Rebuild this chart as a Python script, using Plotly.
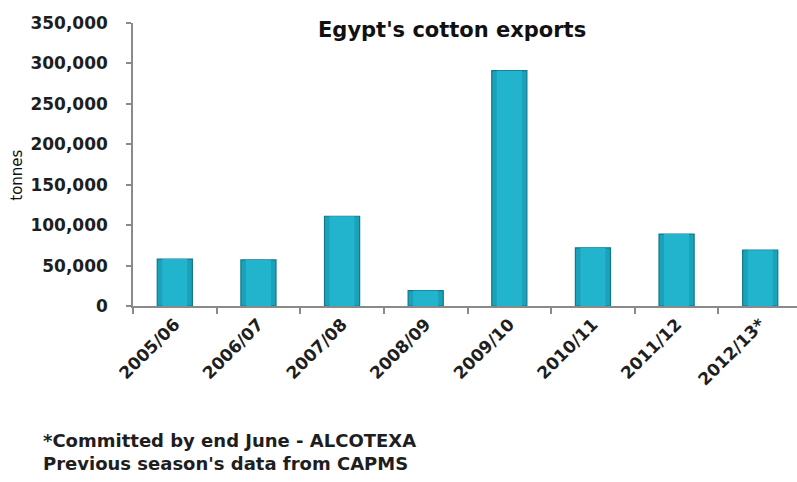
import plotly.graph_objects as go

# Egyptian cotton export volumes by season (tonnes)
seasons = ["2005/06", "2006/07", "2007/08", "2008/09",
           "2009/10", "2010/11", "2011/12", "2012/13*"]
exports_tonnes = [58000, 57000, 111000, 19000, 291000, 72000, 89000, 69000]

y_ticks = [0, 50000, 100000, 150000, 200000, 250000, 300000, 350000]

FONT = "DejaVu Sans"
TEXT = "#1e1e1e"
AXIS = "#8a8a8a"

fig = go.Figure()
# Bar body with darker rim
fig.add_trace(go.Bar(
    x=seasons,
    y=exports_tonnes,
    width=0.42,
    marker=dict(color="#1aa2bb", line=dict(color="#11788b", width=1.2)),
    hoverinfo="x+y",
))
# Lighter face for a bevelled look
fig.add_trace(go.Bar(
    x=seasons,
    y=exports_tonnes,
    width=0.30,
    marker=dict(color="#22b4cd", line=dict(width=0)),
    hoverinfo="skip",
))

fig.update_layout(
    width=797,
    height=482,
    margin=dict(l=133, r=0, t=23, b=175.5),
    paper_bgcolor="white",
    plot_bgcolor="white",
    showlegend=False,
    barmode="overlay",
    font=dict(family=FONT, color=TEXT),
)

fig.update_xaxes(
    type="category",
    range=[-0.5, 7.44],
    showgrid=False,
    showline=True,
    linecolor=AXIS,
    linewidth=1.5,
    ticks="outside",
    tickson="boundaries",
    ticklen=6,
    tickcolor=AXIS,
    tickwidth=1.5,
    tickangle=-45,
    tickfont=dict(family=FONT, size=17, color=TEXT, weight="bold"),
)

fig.update_yaxes(
    range=[0, 350000],
    tickvals=y_ticks,
    tickformat=",",
    showgrid=False,
    zeroline=False,
    showline=True,
    linecolor=AXIS,
    linewidth=1.5,
    ticks="outside",
    ticklen=5,
    tickcolor=AXIS,
    tickwidth=1.5,
    ticklabelstandoff=15,
    tickfont=dict(family=FONT, size=17, color=TEXT, weight="bold"),
)

# Chart title
fig.add_annotation(
    text="Egypt's cotton exports",
    xref="paper", yref="paper",
    x=(452 - 133) / 664, y=1 + (23 - 30) / 283.5,
    xanchor="center", yanchor="middle",
    showarrow=False,
    font=dict(family=FONT, size=21, color="#111111", weight="bold"),
)

# Y-axis unit label
fig.add_annotation(
    text="tonnes",
    xref="paper", yref="paper",
    x=(17 - 133) / 664, y=(306.5 - 176) / 283.5,
    xanchor="center", yanchor="middle",
    textangle=-90,
    showarrow=False,
    font=dict(family=FONT, size=15, color="#111111"),
)

# Source notes
fig.add_annotation(
    text="*Committed by end June - ALCOTEXA<br>Previous season's data from CAPMS",
    xref="paper", yref="paper",
    x=(41 - 133) / 664, y=(306.5 - 453) / 283.5,
    xanchor="left", yanchor="middle",
    align="left",
    showarrow=False,
    font=dict(family=FONT, size=18, color=TEXT, weight="bold"),
)

fig.write_html("out.html")
